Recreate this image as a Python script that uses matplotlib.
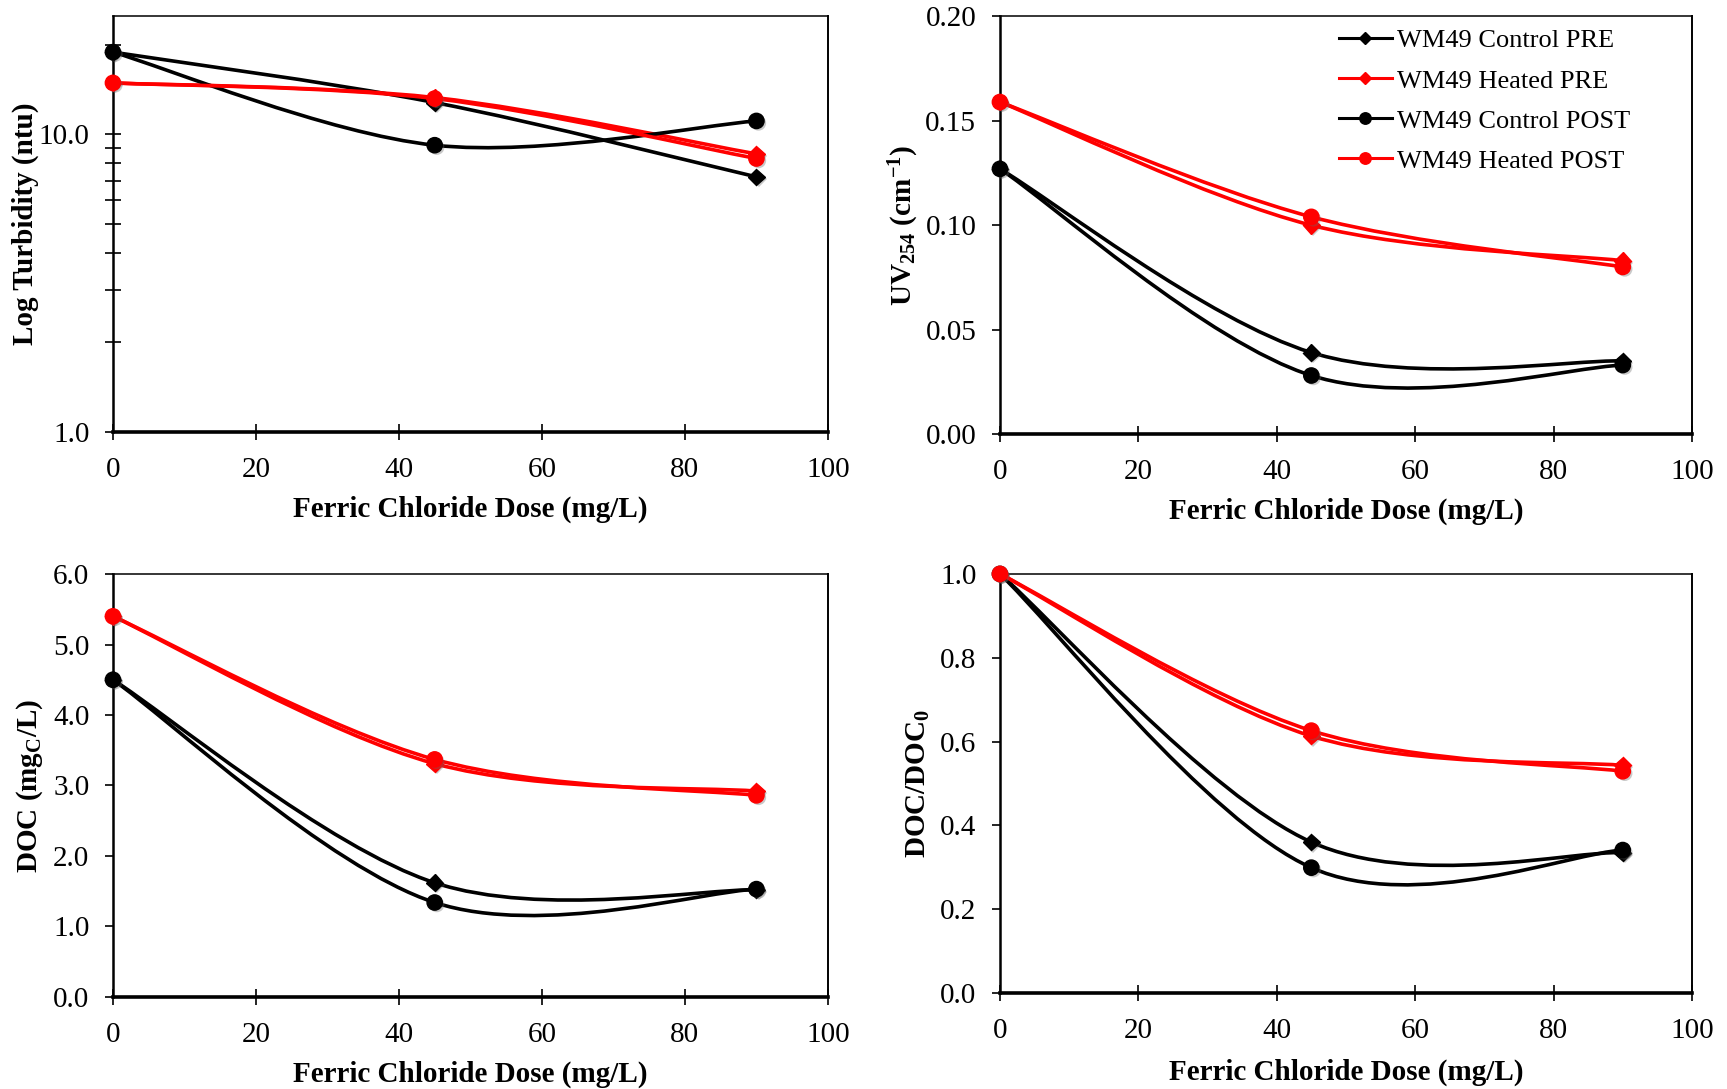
import matplotlib
matplotlib.use('Agg')
import matplotlib.pyplot as plt
import matplotlib.patheffects as pe
from matplotlib.path import Path
from matplotlib.patches import PathPatch
from matplotlib.lines import Line2D
import numpy as np

plt.rcParams['font.family'] = ['Liberation Serif', 'DejaVu Serif']
plt.rcParams['mathtext.default'] = 'regular'

# data
dose = [0, 45, 90]

series = ['WM49 Control PRE', 'WM49 Heated PRE', 'WM49 Control POST', 'WM49 Heated POST']

turb_ctrl_pre = [18.9, 12.8, 7.2]
turb_heat_pre = [14.9, 13.3, 8.6]
turb_ctrl_post = [18.9, 9.2, 11.1]
turb_heat_post = [14.9, 13.2, 8.3]

uv_ctrl_pre = [0.127, 0.039, 0.035]
uv_heat_pre = [0.159, 0.100, 0.083]
uv_ctrl_post = [0.127, 0.028, 0.033]
uv_heat_post = [0.159, 0.104, 0.080]

doc_ctrl_pre = [4.50, 1.62, 1.52]
doc_heat_pre = [5.40, 3.31, 2.92]
doc_ctrl_post = [4.50, 1.34, 1.53]
doc_heat_post = [5.40, 3.37, 2.86]

docn_ctrl_pre = [1.0, 0.360, 0.335]
docn_heat_pre = [1.0, 0.613, 0.543]
docn_ctrl_post = [1.0, 0.299, 0.341]
docn_heat_post = [1.0, 0.626, 0.529]

colors = ['black', 'red', 'black', 'red']
markers = ['D', 'D', 'o', 'o']
msizes = [8.5, 8.5, 11, 11]


def smooth_path(x, y, log=False):
    # excel-style smoothed line: bezier segments with catmull-rom handles
    x = np.asarray(x, float)
    y = np.asarray(y, float)
    if log:
        y = np.log10(y)
    n = len(x)
    verts = [(x[0], y[0])]
    codes = [Path.MOVETO]
    for i in range(n - 1):
        p0 = np.array([x[max(i - 1, 0)], y[max(i - 1, 0)]])
        p1 = np.array([x[i], y[i]])
        p2 = np.array([x[i + 1], y[i + 1]])
        p3 = np.array([x[min(i + 2, n - 1)], y[min(i + 2, n - 1)]])
        c1 = p1 + (p2 - p0) / 6
        c2 = p2 - (p3 - p1) / 6
        verts += [tuple(c1), tuple(c2), tuple(p2)]
        codes += [Path.CURVE4] * 3
    verts = np.array(verts)
    if log:
        verts[:, 1] = 10 ** verts[:, 1]
    return Path(verts, codes)


shadow = [pe.SimplePatchShadow(offset=(1.5, -1.5), shadow_rgbFace='0.4', alpha=0.35), pe.Normal()]


def draw_panel(ax, data, log=False):
    for i, y in enumerate(data):
        patch = PathPatch(smooth_path(dose, y, log), fill=False, edgecolor=colors[i],
                          lw=2.6, zorder=3 + i, clip_on=False, capstyle='round')
        ax.add_patch(patch)
        ax.plot(dose, y, linestyle='none', marker=markers[i], ms=msizes[i],
                color=colors[i], zorder=3 + i, clip_on=False, path_effects=shadow)


def style_axes(ax, ylabel, xlabel_y, ylabel_x):
    ax.set_xlim(0, 100)
    ax.set_xticks(np.arange(0, 101, 20))
    ax.spines['left'].set_linewidth(1.8)
    ax.spines['bottom'].set_linewidth(2.6)
    ax.spines['top'].set_linewidth(1.1)
    ax.spines['right'].set_linewidth(1.4)
    ax.tick_params(axis='x', direction='inout', length=12, width=1.2, pad=12, labelsize=21)
    ax.tick_params(axis='y', direction='out', length=6, width=1.2, pad=11, labelsize=21)
    ax.set_xlabel('Ferric Chloride Dose (mg/L)', fontsize=21, fontweight='bold')
    ax.set_ylabel(ylabel, fontsize=21, fontweight='bold')
    ax.xaxis.set_label_coords(0.5, xlabel_y)
    ax.yaxis.set_label_coords(ylabel_x, 0.5)


fig = plt.figure(figsize=(17.27, 10.89), dpi=100)
ax1 = fig.add_axes([0.0654, 0.6033, 0.4140, 0.3820])
ax2 = fig.add_axes([0.5790, 0.6015, 0.4007, 0.3834])
ax3 = fig.add_axes([0.0654, 0.0845, 0.4140, 0.3884])
ax4 = fig.add_axes([0.5790, 0.0882, 0.4007, 0.3848])

# log turbidity
ax1.set_yscale('log')
ax1.set_ylim(1, 25)
draw_panel(ax1, [turb_ctrl_pre, turb_heat_pre, turb_ctrl_post, turb_heat_post], log=True)
style_axes(ax1, 'Log Turbidity (ntu)', -0.153, -0.104)
ax1.set_yticks([1, 10])
ax1.set_yticklabels(['1.0', '10.0'])
ax1.set_yticks([2, 3, 4, 5, 6, 7, 8, 9, 20], minor=True)
ax1.yaxis.set_minor_formatter(matplotlib.ticker.NullFormatter())
ax1.tick_params(axis='y', which='both', direction='inout', length=12, width=1.2)
ax1.tick_params(axis='y', which='minor', length=11)

# UV254
ax2.set_ylim(0, 0.2)
draw_panel(ax2, [uv_ctrl_pre, uv_heat_pre, uv_ctrl_post, uv_heat_post])
style_axes(ax2, 'UV$_{254}$ (cm$^{-1}$)', -0.153, -0.114)
ax2.set_yticks(np.arange(0, 0.201, 0.05))
ax2.yaxis.set_major_formatter(matplotlib.ticker.FormatStrFormatter('%.2f'))

# DOC
ax3.set_ylim(0, 6)
draw_panel(ax3, [doc_ctrl_pre, doc_heat_pre, doc_ctrl_post, doc_heat_post])
style_axes(ax3, 'DOC (mg$_C$/L)', -0.15, -0.095)
ax3.set_yticks(np.arange(0, 6.01, 1))
ax3.yaxis.set_major_formatter(matplotlib.ticker.FormatStrFormatter('%.1f'))

# DOC/DOC0
ax4.set_ylim(0, 1)
draw_panel(ax4, [docn_ctrl_pre, docn_heat_pre, docn_ctrl_post, docn_heat_post])
style_axes(ax4, 'DOC/DOC$_0$', -0.157, -0.098)
ax4.set_yticks(np.arange(0, 1.01, 0.2))
ax4.yaxis.set_major_formatter(matplotlib.ticker.FormatStrFormatter('%.1f'))

handles = [Line2D([], [], color=colors[i], marker=markers[i], ms=msizes[i] * 0.75, lw=2.2)
           for i in range(4)]
ax2.legend(handles, series, loc='upper left', bbox_to_anchor=(0.49, 0.97), frameon=False,
           fontsize=19, handlelength=2.0, handletextpad=0.2, labelspacing=0.63,
           borderpad=0, borderaxespad=0)

fig.savefig('out.png', dpi=100)
